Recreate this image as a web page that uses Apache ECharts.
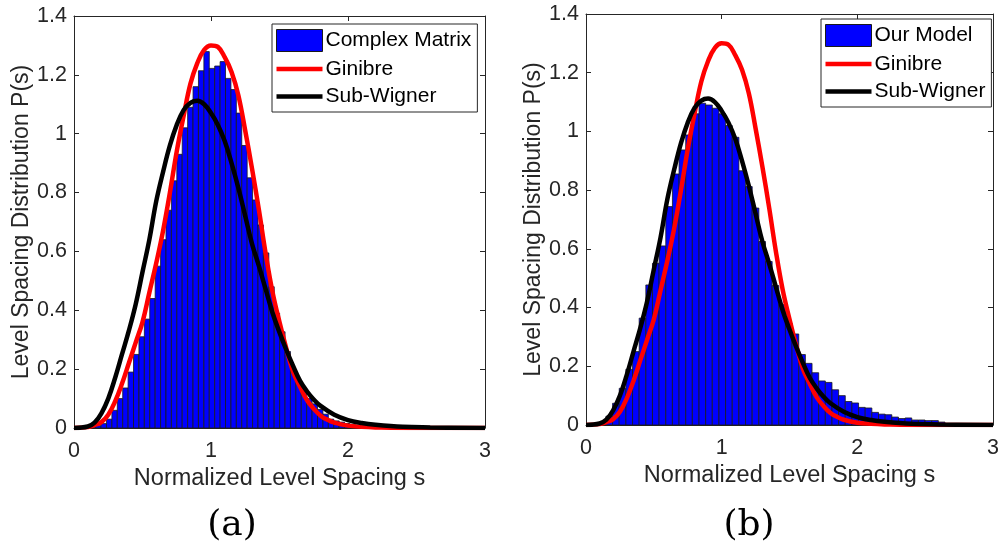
<!DOCTYPE html>
<html>
<head>
<meta charset="utf-8">
<script src="https://cdn.jsdelivr.net/npm/echarts@6/dist/echarts.min.js"></script>
<style>html,body{margin:0;padding:0;background:#fff}#c{width:1002px;height:548px}</style>
</head>
<body>
<div id="c"></div>
<script>
// ---- data ----
const xTicks = [0, 1, 2, 3];
const yTickLabels = ['0', '0.2', '0.4', '0.6', '0.8', '1', '1.2', '1.4'];

// histogram (a): bin width and bar heights, bins start at s = 0
const binWidthA = 0.0395;
const histA = [0, 0, 0.001, 0.003, 0.008, 0.015, 0.03, 0.06, 0.1, 0.136,
  0.19, 0.25, 0.31, 0.37, 0.44, 0.55, 0.64, 0.74, 0.84, 0.93,
  1.02, 1.09, 1.16, 1.214, 1.279, 1.222, 1.23, 1.245, 1.188, 1.15,
  1.07, 0.96, 0.85, 0.775, 0.69, 0.595, 0.48, 0.39, 0.327, 0.26,
  0.197, 0.157, 0.129, 0.1, 0.082, 0.063, 0.047, 0.03, 0.024, 0.02,
  0.015, 0.011, 0.007, 0.004, 0.002];

// histogram (b)
const binWidthB = 0.049;
const histB = [0, 0.002, 0.01, 0.03, 0.074, 0.125, 0.19, 0.25, 0.364, 0.477,
  0.551, 0.61, 0.744, 0.855, 0.937, 0.988, 1.06, 1.096, 1.09, 1.079,
  1.06, 1.02, 0.98, 0.866, 0.812, 0.739, 0.625, 0.557, 0.475, 0.41,
  0.347, 0.31, 0.24, 0.21, 0.178, 0.15, 0.145, 0.12, 0.1, 0.08,
  0.075, 0.06, 0.058, 0.043, 0.037, 0.035, 0.027, 0.022, 0.024, 0.017,
  0.017, 0.015, 0.015, 0.01, 0.005, 0.003];

// Ginibre curve
const ginS = [0, 0.1, 0.15, 0.2, 0.25, 0.3, 0.35, 0.4, 0.45, 0.5, 0.55, 0.6, 0.65, 0.7, 0.75, 0.8, 0.85, 0.9, 0.95, 1.0,
  1.05, 1.1, 1.15, 1.2, 1.25, 1.3, 1.35, 1.4, 1.45, 1.5, 1.55, 1.6, 1.65, 1.7, 1.75, 1.8, 1.85, 1.9, 2.0, 2.1, 2.2, 2.5, 3.0];
const ginP = [0, 0.003, 0.01, 0.02, 0.045, 0.09, 0.15, 0.22, 0.29, 0.36, 0.46, 0.56, 0.67, 0.80, 0.94, 1.06, 1.17, 1.24, 1.285, 1.30,
  1.295, 1.26, 1.21, 1.13, 1.01, 0.88, 0.74, 0.59, 0.46, 0.36, 0.27, 0.19, 0.14, 0.095, 0.065, 0.042, 0.028, 0.018, 0.008, 0.004, 0.002, 0, 0];

// Sub-Wigner curve
const swS = [0, 0.1, 0.15, 0.2, 0.25, 0.3, 0.35, 0.4, 0.45, 0.5, 0.55, 0.6, 0.65, 0.7, 0.75, 0.8, 0.85, 0.9, 0.95, 1.0,
  1.05, 1.1, 1.15, 1.2, 1.25, 1.3, 1.35, 1.4, 1.45, 1.5, 1.55, 1.6, 1.65, 1.7, 1.75, 1.8, 1.9, 2.0, 2.1, 2.2, 2.4, 2.6, 3.0];
const swP = [0, 0.005, 0.018, 0.05, 0.10, 0.17, 0.25, 0.33, 0.42, 0.53, 0.64, 0.77, 0.87, 0.96, 1.03, 1.08, 1.105, 1.112, 1.10, 1.07,
  1.03, 0.975, 0.90, 0.815, 0.72, 0.625, 0.55, 0.47, 0.39, 0.325, 0.265, 0.21, 0.16, 0.125, 0.097, 0.075, 0.045, 0.027, 0.017, 0.011, 0.004, 0.002, 0];

const legendA = ['Complex Matrix', 'Ginibre', 'Sub-Wigner'];
const legendB = ['Our Model', 'Ginibre', 'Sub-Wigner'];
const xName = 'Normalized Level Spacing s';
const yName = 'Level Spacing Distribution P(s)';
const captions = ['(a)', '(b)'];

// ---- build ----
const AX = '#262626';
const FONT = 'Liberation Sans';
const pairs = (xs, ys) => xs.map((x, i) => [x, ys[i]]);
const bins = (w, h) => h.map((v, k) => [k * w, (k + 1) * w, v]);

function renderBar(params, api) {
  const p0 = api.coord([api.value(0), api.value(2)]);
  const p1 = api.coord([api.value(1), 0]);
  return {
    type: 'rect',
    shape: { x: p0[0], y: p0[1], width: p1[0] - p0[0], height: p1[1] - p0[1] },
    style: { fill: '#0000ff', stroke: '#1a1a1a', lineWidth: 0.8 }
  };
}

const grids = [
  { left: 74, top: 16, width: 411, height: 412 },
  { left: 586, top: 14, width: 410, height: 411 }
];

const xAxes = [], yAxes = [], series = [];
grids.forEach((g, i) => {
  xAxes.push({
    gridIndex: i, type: 'value', min: 0, max: 3, interval: 1, position: 'bottom',
    name: xName, nameLocation: 'middle', nameGap: 37,
    nameTextStyle: { color: AX, fontFamily: FONT, fontSize: 23.5 },
    axisLine: { show: true, onZero: false, lineStyle: { color: AX, width: 1 } },
    axisTick: { show: true, inside: true, length: 5, lineStyle: { color: AX } },
    axisLabel: { color: AX, fontFamily: FONT, fontSize: 21.5, margin: 12,
      formatter: v => xTicks.indexOf(v) >= 0 ? String(v) : '' },
    splitLine: { show: false }
  });
  xAxes.push({
    gridIndex: i, type: 'value', min: 0, max: 3, interval: 1, position: 'top',
    axisLine: { show: true, onZero: false, lineStyle: { color: AX, width: 1 } },
    axisTick: { show: true, inside: true, length: 5, lineStyle: { color: AX } },
    axisLabel: { show: false }, splitLine: { show: false }
  });
  yAxes.push({
    gridIndex: i, type: 'value', min: 0, max: 1.4, interval: 0.2, position: 'left',
    name: yName, nameLocation: 'middle', nameGap: 41, nameRotate: 90,
    nameTextStyle: { color: AX, fontFamily: FONT, fontSize: 23 },
    axisLine: { show: true, onZero: false, lineStyle: { color: AX, width: 1 } },
    axisTick: { show: true, inside: true, length: 5, lineStyle: { color: AX } },
    axisLabel: { color: AX, fontFamily: FONT, fontSize: 21.5, margin: 7,
      formatter: (v) => { const k = Math.round(v / 0.2); return yTickLabels[k] !== undefined ? yTickLabels[k] : ''; } },
    splitLine: { show: false }
  });
  yAxes.push({
    gridIndex: i, type: 'value', min: 0, max: 1.4, interval: 0.2, position: 'right',
    axisLine: { show: true, onZero: false, lineStyle: { color: AX, width: 1 } },
    axisTick: { show: true, inside: true, length: 5, lineStyle: { color: AX } },
    axisLabel: { show: false }, splitLine: { show: false }
  });
  const histName = i === 0 ? legendA[0] : legendB[0];
  series.push({
    name: histName, type: 'custom', xAxisIndex: 2 * i, yAxisIndex: 2 * i,
    renderItem: renderBar, encode: { x: [0, 1], y: 2 },
    itemStyle: { color: '#0000ff', borderColor: '#1a1a1a', borderWidth: 1 },
    data: i === 0 ? bins(binWidthA, histA) : bins(binWidthB, histB), z: 2
  });
  series.push({
    name: 'Ginibre', type: 'line', xAxisIndex: 2 * i, yAxisIndex: 2 * i,
    data: pairs(ginS, ginP), smooth: 0.4, showSymbol: false, symbol: 'none',
    lineStyle: { color: '#ff0000', width: 4.5 }, itemStyle: { color: '#ff0000' }, z: 3
  });
  series.push({
    name: 'Sub-Wigner', type: 'line', xAxisIndex: 2 * i, yAxisIndex: 2 * i,
    data: pairs(swS, swP), smooth: 0.4, showSymbol: false, symbol: 'none',
    lineStyle: { color: '#000000', width: 4.5 }, itemStyle: { color: '#000000' }, z: 4
  });
});

const LINE_ICON = 'path://M0,0L46,0L46,4.5L0,4.5Z';
function legendFor(names, left, top) {
  return {
    orient: 'vertical', left: left, top: top,
    itemWidth: 46, itemHeight: 22, itemGap: 6.5, padding: [5, 6, 5, 4],
    borderColor: AX, borderWidth: 1, backgroundColor: '#fff',
    selectedMode: false, symbolKeepAspect: true,
    textStyle: { color: '#000', fontFamily: FONT, fontSize: 21, padding: [0, 0, 0, -2] },
    data: [
      { name: names[0], icon: 'rect', itemStyle: { color: '#0000ff', borderColor: '#1a1a1a', borderWidth: 1 } },
      { name: names[1], icon: LINE_ICON, itemStyle: { color: '#ff0000', borderWidth: 0 } },
      { name: names[2], icon: LINE_ICON, itemStyle: { color: '#000000', borderWidth: 0 } }
    ]
  };
}

const option = {
  animation: false,
  backgroundColor: '#ffffff',
  grid: grids,
  xAxis: xAxes,
  yAxis: yAxes,
  legend: [legendFor(legendA, 272, 24), legendFor(legendB, 821, 19)],
  graphic: [
    { type: 'text', x: 232, y: 526, style: { text: captions[0], font: '36px "DejaVu Serif"', fill: '#000', textAlign: 'center', textVerticalAlign: 'middle' } },
    { type: 'text', x: 749, y: 526, style: { text: captions[1], font: '36px "DejaVu Serif"', fill: '#000', textAlign: 'center', textVerticalAlign: 'middle' } }
  ],
  series: series
};

const chart = echarts.init(document.getElementById('c'), null, { renderer: 'canvas' });
chart.setOption(option);
</script>
</body>
</html>
